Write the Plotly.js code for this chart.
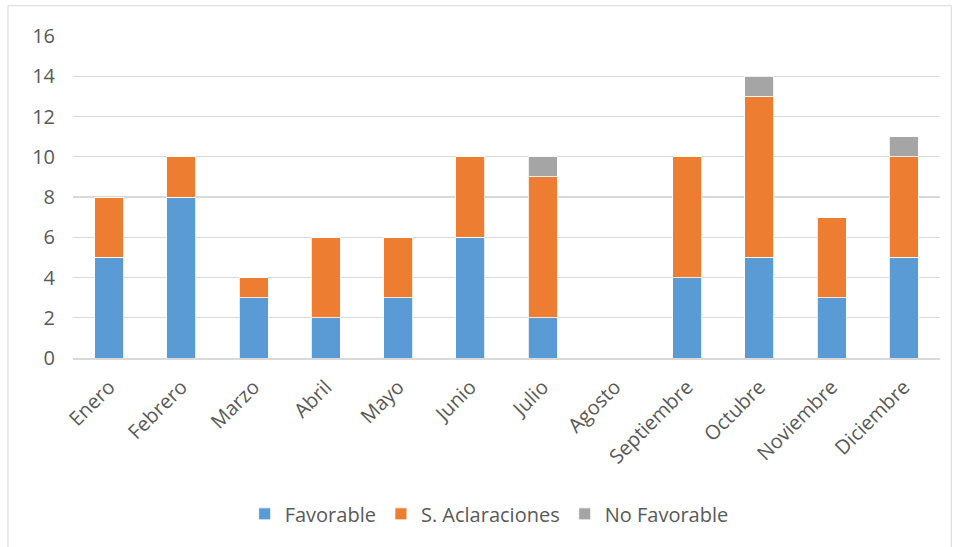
<!DOCTYPE html>
<html><head><meta charset="utf-8">
<script src="https://cdn.plot.ly/plotly-3.0.1.min.js"></script>
<style>html,body{margin:0;padding:0;background:#fff}#chart{width:957px;height:547px}</style>
</head><body><div id="chart"></div>
<script>
const months = ["Enero","Febrero","Marzo","Abril","Mayo","Junio","Julio","Agosto","Septiembre","Octubre","Noviembre","Diciembre"];
const favorable = [5,8,3,2,3,6,2,0,4,5,3,5];
const aclaraciones = [3,2,1,4,3,4,7,0,6,8,4,5];
const noFavorable = [0,0,0,0,0,0,1,0,0,1,0,1];
const yTicks = [0,2,4,6,8,10,12,14,16];

const fontFam = "Open Sans, Liberation Sans, sans-serif";
const mk = (name, y, color) => ({
  type: "bar", name: name, x: months, y: y,
  marker: {color: color, line: {color: "#ffffff", width: 0.8}},
  hoverinfo: "x+y+name"
});
const data = [
  mk("Favorable", favorable, "#5b9bd5"),
  mk("S. Aclaraciones", aclaraciones, "#ed7d31"),
  mk("No Favorable", noFavorable, "#a5a5a5")
];
const layout = {
  width: 957, height: 547,
  barmode: "stack", bargap: 0.6,
  paper_bgcolor: "#ffffff", plot_bgcolor: "#ffffff",
  margin: {l: 73, r: 17, t: 36, b: 189},
  font: {family: fontFam, color: "#595959", size: 20},
  xaxis: {tickangle: -45, showgrid: false, showline: true, linecolor: "#d9d9d9", linewidth: 1.5,
          ticks: "", ticklabelstandoff: 8, tickfont: {size: 20, color: "#595959"}, automargin: false},
  yaxis: {range: [0, 16], tickvals: yTicks, showgrid: true, gridcolor: "#d9d9d9", gridwidth: 1.3,
          zeroline: false, showline: false, ticks: "", ticklabelstandoff: 17,
          tickfont: {size: 20, color: "#595959"}, automargin: false},
  legend: {orientation: "h", x: 0.48, xanchor: "center", y: -0.484, yanchor: "middle",
           font: {size: 20, color: "#595959"}, traceorder: "normal", itemwidth: 30},
  shapes: [{type: "rect", xref: "paper", yref: "paper", x0: -0.075, x1: 1.013, y0: -0.59, y1: 1.094,
            line: {color: "#d9d9d9", width: 1}, fillcolor: "rgba(0,0,0,0)"}]
};
Plotly.newPlot("chart", data, layout, {displayModeBar: false, staticPlot: true});
</script></body></html>
